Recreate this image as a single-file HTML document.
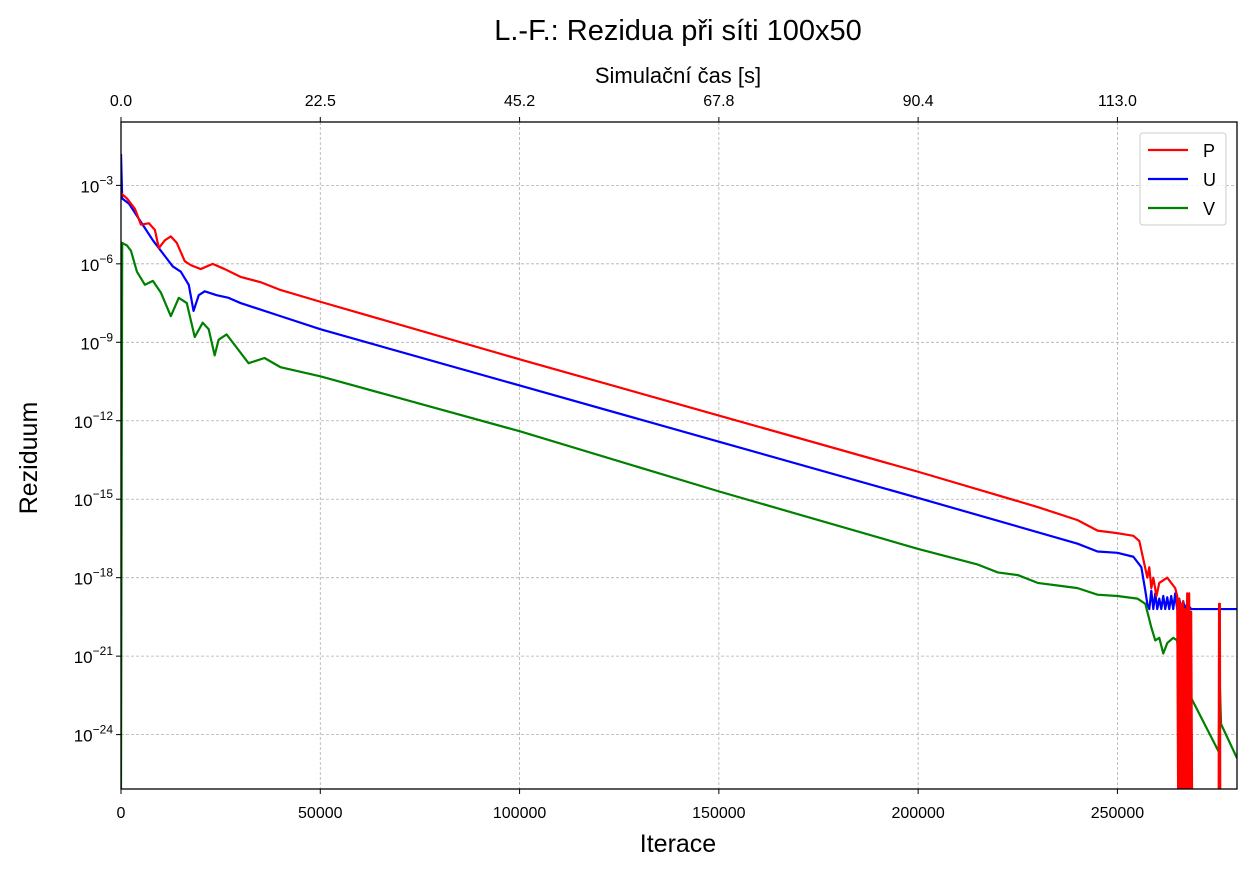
<!DOCTYPE html>
<html><head><meta charset="utf-8"><style>
body{margin:0;background:#fff;}
svg text{font-family:"Liberation Sans","DejaVu Sans",sans-serif;fill:#000;}
</style></head><body>
<svg id="chart" width="1251" height="872" xmlns="http://www.w3.org/2000/svg">
<text x="678" y="40" font-size="29" text-anchor="middle">L.-F.: Rezidua při síti 100x50</text>
<text x="678" y="83" font-size="22" text-anchor="middle">Simulační čas [s]</text>
<text x="678" y="852" font-size="25" text-anchor="middle">Iterace</text>
<text x="0" y="0" font-size="25" text-anchor="middle" transform="translate(37,458) rotate(-90)">Reziduum</text>
<defs><clipPath id="clip"><rect x="121" y="122" width="1116" height="667"/></clipPath></defs>
<g id="grid"></g>
<g id="series" clip-path="url(#clip)"></g>
<rect x="121" y="122" width="1116" height="667" fill="none" stroke="#000" stroke-width="1.3"/>
<g id="axes"></g>
<g>
<rect x="1140" y="133" width="86" height="92" rx="3" fill="#fff" fill-opacity="0.8" stroke="#ccc"/>
<line x1="1148" y1="150" x2="1188" y2="150" stroke="#f00" stroke-width="2.2"/>
<text x="1203" y="157" font-size="18">P</text>
<line x1="1148" y1="179" x2="1188" y2="179" stroke="#00f" stroke-width="2.2"/>
<text x="1203" y="186" font-size="18">U</text>
<line x1="1148" y1="208" x2="1188" y2="208" stroke="#008000" stroke-width="2.2"/>
<text x="1203" y="215" font-size="18">V</text>
</g>
</svg>
<script>
const xTicks=[0,50000,100000,150000,200000,250000];
const topTickLabels=["0.0","22.5","45.2","67.8","90.4","113.0"];
const yTickExps=[-3,-6,-9,-12,-15,-18,-21,-24];
const seriesP=[[0,-3.3],[1500,-3.5],[3500,-3.9],[5000,-4.5],[7000,-4.45],[8500,-4.7],[9500,-5.4],[11000,-5.1],[12500,-4.95],[14000,-5.2],[16000,-5.9],[17500,-6.05],[20000,-6.2],[23000,-6.0],[26000,-6.2],[30000,-6.5],[35000,-6.7],[40000,-7.0],[50000,-7.45],[100000,-9.65],[150000,-11.8],[200000,-13.95],[230000,-15.3],[240000,-15.8],[245000,-16.2],[250000,-16.3],[254000,-16.4],[255500,-16.6],[256500,-17.3],[257500,-18.0],[258000,-17.6],[258500,-18.4],[259000,-18.0],[259800,-18.7],[260500,-18.2],[261500,-18.1],[262500,-18.0],[263500,-18.2],[264500,-18.4],[265000,-18.7],[265250,-27],[265500,-18.8],[265750,-27],[266000,-19.0],[266250,-27],[266500,-18.9],[266750,-27],[267000,-19.2],[267250,-27],[267500,-18.6],[267750,-27],[268000,-18.6],[268250,-27],[268500,-19.3],[268750,-27],[275400,-27],[275500,-19.0],[275700,-19.0],[275800,-27],[280000,-27]];
const seriesU=[[0,-1.8],[300,-3.5],[2000,-3.7],[5000,-4.4],[8000,-5.1],[11000,-5.7],[13000,-6.1],[15000,-6.3],[17000,-6.8],[18200,-7.8],[19500,-7.2],[21000,-7.05],[24000,-7.2],[27000,-7.3],[30000,-7.5],[40000,-8.0],[50000,-8.5],[100000,-10.65],[150000,-12.8],[200000,-14.95],[240000,-16.7],[245000,-17.0],[250000,-17.05],[254000,-17.2],[256000,-17.6],[257000,-18.5],[257500,-19.0],[258000,-19.2],[258500,-18.5],[259000,-19.2],[259500,-18.6],[260000,-19.2],[260500,-18.8],[261000,-19.2],[261500,-18.7],[262000,-19.2],[262500,-18.75],[263000,-19.2],[263500,-18.7],[264000,-19.2],[264500,-18.6],[265000,-19.2],[265500,-18.8],[266000,-19.2],[266500,-18.9],[267000,-19.2],[267500,-19.0],[268500,-19.2],[280000,-19.2]];
const seriesV=[[0,-26.1],[300,-5.2],[1500,-5.3],[2500,-5.5],[4000,-6.3],[6000,-6.8],[8000,-6.65],[10000,-7.1],[12500,-8.0],[14500,-7.3],[16500,-7.5],[18500,-8.8],[20500,-8.25],[22000,-8.5],[23500,-9.5],[24500,-8.9],[26500,-8.7],[29000,-9.2],[32000,-9.8],[36000,-9.6],[40000,-9.95],[50000,-10.3],[100000,-12.4],[150000,-14.7],[200000,-16.9],[215000,-17.5],[220000,-17.8],[225000,-17.9],[230000,-18.2],[235000,-18.3],[240000,-18.4],[245000,-18.65],[250000,-18.7],[255000,-18.8],[257000,-19.0],[258500,-19.9],[259500,-20.4],[260500,-20.3],[261500,-20.9],[262500,-20.5],[264000,-20.3],[265000,-20.4],[265500,-21.6],[266500,-22.0],[267000,-21.5],[267500,-22.3],[275400,-24.65],[275600,-21.6],[276000,-23.6],[280000,-24.9]];
const X0=121,X1=1237,Y0=122,Y1=789,XMAX=280000,LTOP=-0.577,LBOT=-26.08;
function xs(v){return X0+(v/XMAX)*(X1-X0);}
function ys(l){return Y0+(LTOP-l)/(LTOP-LBOT)*(Y1-Y0);}
const NS="http://www.w3.org/2000/svg";
const grid=document.getElementById('grid'),axes=document.getElementById('axes'),ser=document.getElementById('series');
function mk(tag,attrs,parent){const e=document.createElementNS(NS,tag);for(const k in attrs)e.setAttribute(k,attrs[k]);parent.appendChild(e);return e;}
xTicks.forEach((t,i)=>{
  const x=xs(t);
  const g=mk('line',{x1:x,x2:x,y1:Y0,y2:Y1,stroke:'#b0b0b0','stroke-width':0.8,'stroke-dasharray':'3,2'},grid);
  
  
  mk('line',{x1:x,x2:x,y1:Y1,y2:Y1+5,stroke:'#000'},axes);
  mk('line',{x1:x,x2:x,y1:Y0,y2:Y0-5,stroke:'#000'},axes);
  const tl=mk('text',{x:x,y:818,'font-size':16,'text-anchor':'middle'},axes);
  tl.textContent=String(t);
  
  
  const tt=mk('text',{x:x,y:106,'font-size':16,'text-anchor':'middle'},axes);
  tt.textContent=topTickLabels[i];
  
  
});
yTickExps.forEach(e=>{
  const y=ys(e);
  const g=mk('line',{x1:X0,x2:X1,y1:y,y2:y,stroke:'#b0b0b0','stroke-width':0.8,'stroke-dasharray':'3,2'},grid);
  
  
  mk('line',{x1:X0-5,x2:X0,y1:y,y2:y,stroke:'#000'},axes);
  const t=mk('text',{x:113,y:y+7,'font-size':17,'text-anchor':'end'},axes);
  
  
  const b=document.createElementNS(NS,'tspan');b.textContent='10';t.appendChild(b);
  const s=document.createElementNS(NS,'tspan');s.setAttribute('dy','-8');s.setAttribute('font-size','12');s.textContent='−'+Math.abs(e);t.appendChild(s);
});
function draw(data,color,name){
  const p=mk('polyline',{points:data.map(d=>xs(d[0]).toFixed(2)+','+ys(d[1]).toFixed(2)).join(' '),fill:'none',stroke:color,'stroke-width':2.2,'stroke-linejoin':'round'},ser);
  
  
}
draw(seriesV,'#008000','series-v-line');
draw(seriesU,'#0000ff','series-u-line');
draw(seriesP,'#ff0000','series-p-line');
</script>
</body></html>
